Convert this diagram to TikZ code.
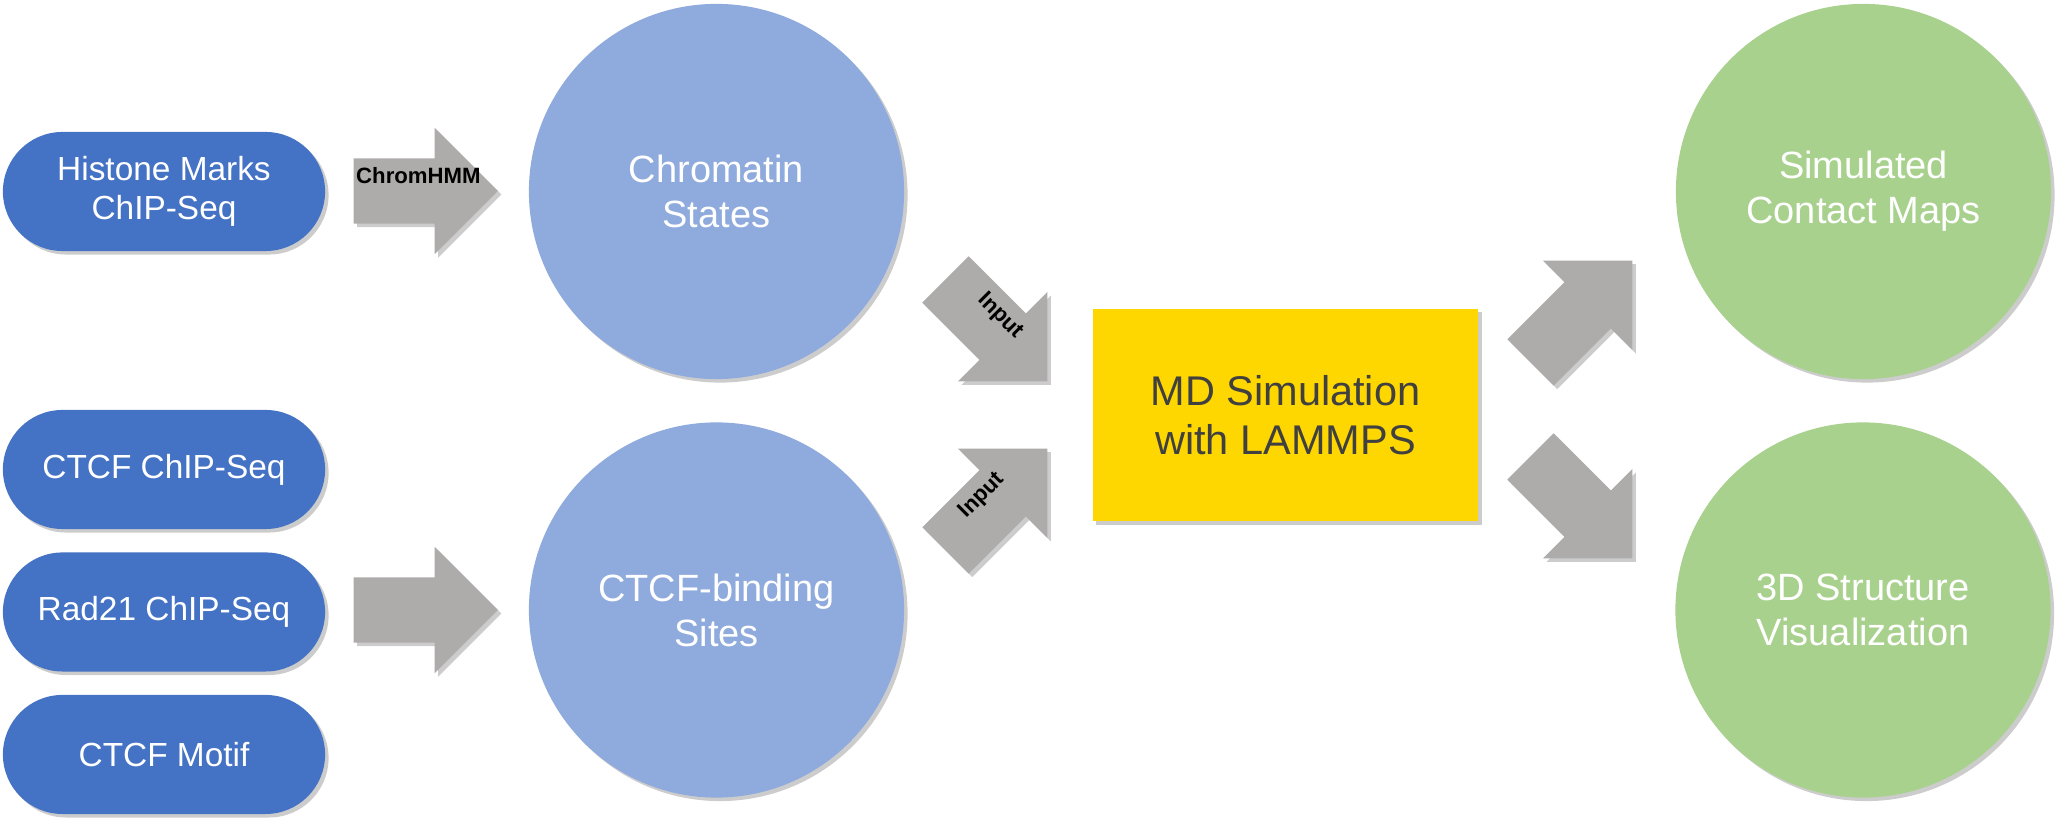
\documentclass[tikz,border=0pt]{standalone}
\usepackage{fontspec}
\setmainfont{Liberation Sans}
\usepackage{tikz}
\usetikzlibrary{shapes.arrows, shadows, positioning}

\definecolor{pillblue}{HTML}{4472C4}
\definecolor{stateblue}{HTML}{8FAADC}
\definecolor{outgreen}{HTML}{A9D18E}
\definecolor{mdgold}{HTML}{FFD700}
\definecolor{arrowgray}{HTML}{AEABAB}
\definecolor{mdtext}{HTML}{404040}

\newcommand{\arrowtext}[1]{\makebox[0pt]{\hspace{1.8mm}#1}}

\tikzset{
  softshadow/.style={drop shadow={shadow xshift=0.35mm, shadow yshift=-0.35mm, fill=black, opacity=0.2}},
  pill/.style={rectangle, rounded corners=5.95mm, fill=pillblue, minimum width=32.2mm,
    minimum height=11.9mm, inner sep=0pt, text=white, align=center,
    font=\fontsize{9.5}{11.1}\selectfont, softshadow},
  bubble/.style={circle, minimum size=37.5mm, inner sep=0pt, text=white, align=center,
    font=\fontsize{10.8}{12.8}\selectfont, softshadow},
  fatarrow/.style={single arrow, anchor=tail, fill=arrowgray, minimum height=14.4mm,
    text height=2.45mm, text depth=3.95mm, single arrow head extend=3.05mm,
    single arrow tip angle=90, single arrow head indent=0pt,
    inner sep=0pt, font=\bfseries\fontsize{6.3}{7}\selectfont, softshadow},
}

\begin{document}
\begin{tikzpicture}[x=0.01cm, y=-0.01cm]
  \useasboundingbox (0,0) rectangle (2062,822);

  % Data
  \node[pill] (histone) at (164,191.5) {Histone Marks\\ChIP-Seq};
  \node[pill] (ctcfchip) at (164,469.5) {CTCF ChIP-Seq};
  \node[pill, below=2.2mm of ctcfchip] (rad21) {Rad21 ChIP-Seq};
  \node[pill, below=2.2mm of rad21] (motif) {CTCF Motif};

  % States and sites
  \node[bubble, fill=stateblue] (states) at (716.5,191.5) {Chromatin\\States};
  \node[bubble, fill=stateblue] (sites) at (716.5,610) {CTCF-binding\\Sites};

  % Simulation
  \node[rectangle, fill=mdgold, minimum width=38.5mm, minimum height=21.2mm, text=mdtext,
    align=center, font=\fontsize{11.8}{13.9}\selectfont, softshadow] (md) at (1285.5,415)
    {MD Simulation\\with LAMMPS};

  % Results
  \node[bubble, fill=outgreen] (maps) at (1863.5,191.5) {Simulated\\Contact Maps};
  \node[bubble, fill=outgreen] (viz) at (1863,610) {3D Structure\\Visualization};

  % Block arrows (placed by their tails)
  \node[fatarrow] (chromhmm) at (353,191) {\arrowtext{ChromHMM}};
  \node[fatarrow] (bindarrow) at (353,610) {};
  \node[fatarrow, rotate=-45] (input1) at (945,279) {\arrowtext{Input}};
  \node[fatarrow, rotate=45] (input2) at (945,551) {\arrowtext{Input}};
  \node[fatarrow, rotate=45] (out1) at (1530,363) {};
  \node[fatarrow, rotate=-45] (out2) at (1530,456) {};
\end{tikzpicture}
\end{document}
